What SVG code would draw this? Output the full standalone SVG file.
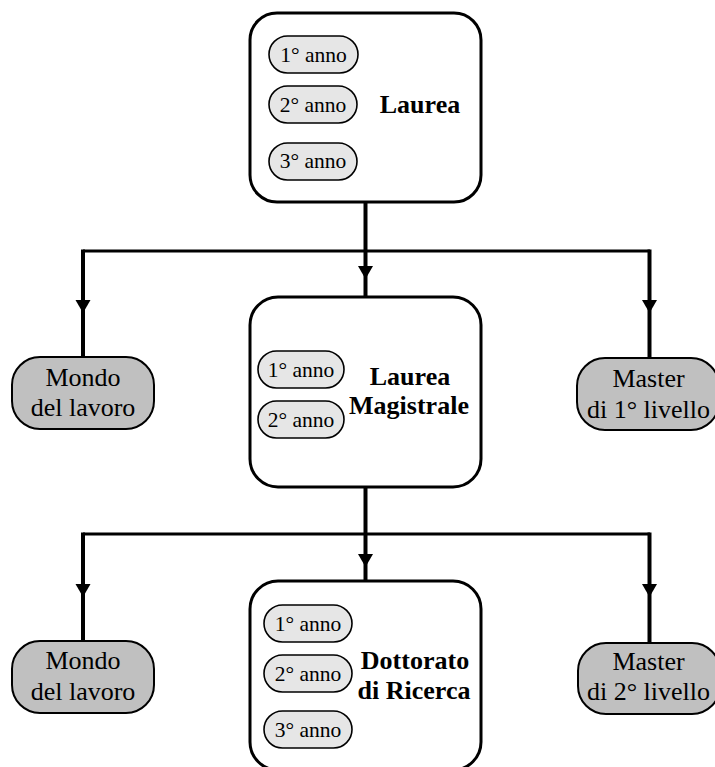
<svg xmlns="http://www.w3.org/2000/svg" width="715" height="767" viewBox="0 0 715 767">
<defs>
<style>
.box{fill:#ffffff;stroke:#000;stroke-width:3}
.pill{fill:#e6e6e6;stroke:#000;stroke-width:1.6}
.out{fill:#c0c0c0;stroke:#000;stroke-width:2}
.pt{font-family:"Liberation Serif","Times New Roman",serif;font-size:21.5px;fill:#000;text-anchor:middle}
.bt{font-family:"Liberation Serif","Times New Roman",serif;font-size:26px;font-weight:bold;fill:#000;text-anchor:middle}
.ot{font-family:"Liberation Serif","Times New Roman",serif;font-size:26px;fill:#000;text-anchor:middle}
.v{stroke:#000;stroke-width:4;fill:none}
.h{stroke:#000;stroke-width:3;fill:none}
</style>
<path id="ah" d="M-7.5,-13 L7.5,-13 L0,0 Z" fill="#000"/>
</defs>
<rect width="715" height="767" fill="#fff"/>

<g id="connectors">
<line class="v" x1="365.5" y1="202" x2="365.5" y2="297"/>
<line class="h" x1="83" y1="251" x2="650" y2="251"/>
<path class="v" d="M83,249.5 V357"/>
<path class="v" d="M649.5,249.5 V358"/>
<use href="#ah" x="365.5" y="279"/>
<use href="#ah" x="83" y="313"/>
<use href="#ah" x="649.5" y="313"/>

<line class="v" x1="365.5" y1="487" x2="365.5" y2="581"/>
<line class="h" x1="83" y1="534" x2="650" y2="534"/>
<path class="v" d="M83,532.5 V641"/>
<path class="v" d="M649.5,532.5 V643"/>
<use href="#ah" x="365.5" y="567"/>
<use href="#ah" x="83" y="597"/>
<use href="#ah" x="649.5" y="597"/>
</g>

<g id="laurea">
<rect class="box" x="250" y="13" width="231" height="189" rx="27"/>
<rect class="pill" x="269" y="36" width="89" height="37" rx="18.5"/>
<text class="pt" x="313.5" y="62">1° anno</text>
<rect class="pill" x="269" y="86" width="88" height="37" rx="18.5"/>
<text class="pt" x="313" y="112">2° anno</text>
<rect class="pill" x="269" y="143" width="88" height="37" rx="18.5"/>
<text class="pt" x="313" y="168">3° anno</text>
<text class="bt" x="420" y="113">Laurea</text>
</g>

<g id="laurea-magistrale">
<rect class="box" x="250" y="297" width="231" height="190" rx="28"/>
<rect class="pill" x="258" y="351" width="86" height="37" rx="18.5"/>
<text class="pt" x="301" y="377">1° anno</text>
<rect class="pill" x="258" y="401" width="86" height="37" rx="18.5"/>
<text class="pt" x="301" y="427">2° anno</text>
<text class="bt" x="410" y="385">Laurea</text>
<text class="bt" x="409" y="414">Magistrale</text>
</g>

<g id="dottorato">
<rect class="box" x="250" y="581" width="231" height="189" rx="28"/>
<rect class="pill" x="264" y="605" width="88" height="37" rx="18.5"/>
<text class="pt" x="308" y="631">1° anno</text>
<rect class="pill" x="264" y="655" width="88" height="37" rx="18.5"/>
<text class="pt" x="308" y="681">2° anno</text>
<rect class="pill" x="264" y="711" width="88" height="37" rx="18.5"/>
<text class="pt" x="308" y="737">3° anno</text>
<text class="bt" x="415" y="669">Dottorato</text>
<text class="bt" x="414" y="699">di Ricerca</text>
</g>

<g id="mondo-1">
<rect class="out" x="12" y="357" width="142" height="72" rx="28"/>
<text class="ot" x="83" y="386">Mondo</text>
<text class="ot" x="83" y="416">del lavoro</text>
</g>

<g id="master-1">
<rect class="out" x="577" y="358" width="142" height="72" rx="28"/>
<text class="ot" x="648.5" y="387">Master</text>
<text class="ot" x="648.5" y="418">di 1° livello</text>
</g>

<g id="mondo-2">
<rect class="out" x="12" y="641" width="142" height="72" rx="28"/>
<text class="ot" x="83" y="669">Mondo</text>
<text class="ot" x="83" y="700">del lavoro</text>
</g>

<g id="master-2">
<rect class="out" x="578" y="643" width="142" height="71" rx="28"/>
<text class="ot" x="648.5" y="670">Master</text>
<text class="ot" x="648.5" y="700">di 2° livello</text>
</g>
</svg>
